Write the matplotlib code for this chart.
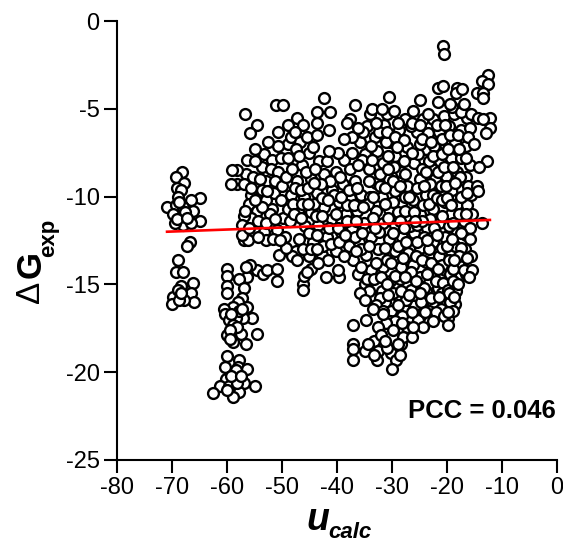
import matplotlib
matplotlib.use("Agg")
import matplotlib.pyplot as plt

plt.rcParams['font.family'] = ['Liberation Sans', 'DejaVu Sans']
plt.rcParams['axes.unicode_minus'] = False

# values, cluster by cluster
far_left = [(-68.2,-8.6),(-69.3,-8.9),(-67.8,-9.2),(-69.1,-9.5),(-68.4,-9.6),(-64.9,-10.1),(-66.5,-10.2),(-68.9,-10.0),
    (-70.9,-10.6),(-69.3,-10.5),(-66.2,-10.8),(-68.0,-10.6),(-68.7,-11.1),(-69.8,-11.0),(-64.9,-11.4),(-68.0,-11.6),
    (-69.5,-11.5),(-66.5,-11.5),(-66.7,-12.6),(-67.2,-12.8),(-68.9,-13.6),(-69.3,-14.3),(-68.0,-14.3),(-66.2,-14.9),
    (-68.4,-15.1),(-66.5,-15.5),(-69.8,-15.7),(-70.0,-16.1),(-66.0,-16.0),(-67.8,-15.9),(-68.7,-15.9),(-68.9,-15.3),
    (-68.7,-10.3),(-67.6,-10.9),(-69.1,-11.3),(-67.2,-11.2),(-68.3,-15.5)]

low_left = [(-60.0,-14.1),(-60.0,-14.5),(-60.0,-15.1),(-60.0,-15.5),(-56.4,-14.6),(-57.8,-14.7),(-56.9,-15.2),(-54.5,-14.2),
    (-53.4,-14.4),(-57.3,-15.8),(-58.0,-16.0),(-56.4,-16.3),(-58.9,-16.3),(-60.5,-16.4),(-60.3,-16.7),(-55.5,-16.9),
    (-57.1,-16.9),(-58.4,-16.9),(-59.6,-17.0),(-58.9,-17.3),(-54.5,-17.8),(-57.5,-17.8),(-60.0,-17.9),(-58.9,-18.3),
    (-56.5,-18.4),(-60.0,-19.1),(-57.8,-19.3),(-60.4,-19.7),(-58.0,-19.7),(-56.4,-19.8),(-58.7,-20.4),(-60.2,-20.4),
    (-56.9,-20.6),(-54.9,-20.8),(-61.3,-20.8),(-62.5,-21.2),(-57.8,-21.1),(-58.9,-21.4),(-59.6,-20.8),(-58.2,-20.6),
    (-57.9,-16.5),(-59.2,-16.7),(-58.1,-17.4),(-59.5,-17.6),(-57.2,-16.4),(-59.4,-18.1),(-58.3,-19.9),(-59.3,-20.2),
    (-57.4,-20.2),(-60.0,-21.0)]

left_mass = [(-56.8,-5.3),(-54.6,-5.9),(-55.8,-6.4),(-53.2,-7.6),(-54.9,-7.3),(-51.9,-7.9),(-56.4,-7.9),(-53.7,-8.3),
    (-52.0,-8.4),(-56.5,-8.7),(-58.1,-8.5),(-59.1,-8.5),(-53.0,-9.1),(-55.2,-8.9),(-50.7,-8.6),(-58.2,-9.3),(-59.3,-9.3),
    (-56.9,-9.3),(-53.7,-9.6),(-55.6,-9.9),(-51.4,-9.8),(-53.0,-10.2),(-56.0,-10.4),(-50.2,-10.2),(-51.8,-10.7),
    (-54.6,-10.8),(-52.2,-11.0),(-55.6,-11.2),(-57.0,-11.1),(-54.3,-11.4),(-49.8,-11.2),(-57.3,-11.6),(-50.9,-11.9),
    (-53.3,-12.0),(-56.9,-12.5),(-56.2,-12.5),(-52.9,-12.5),(-49.4,-12.3),(-57.2,-12.2),(-50.5,-13.3),(-47.5,-13.1),
    (-55.9,-13.9),(-56.6,-14.0),(-52.8,-14.2),(-50.9,-14.1),(-50.9,-14.8),(-48.2,-13.4),(-49.3,-12.9),
    (-55.0,-8.0),(-54.0,-9.0),(-55.7,-9.5),(-52.7,-9.7),(-56.7,-10.8),(-53.7,-10.6),(-51.2,-9.1),(-50.0,-9.4),
    (-54.9,-10.2),(-52.9,-11.5),(-51.3,-11.3),(-56.0,-11.8),(-54.4,-12.3),(-51.7,-12.4),(-50.3,-12.5),(-48.9,-10.7),
    (-50.1,-7.8),(-49.0,-7.0),(-50.7,-7.1),(-52.6,-6.9),(-48.4,-6.6),(-46.7,-6.9)]

top_edge = [(-20.7,-1.4),(-20.5,-1.9),(-12.5,-3.1),(-13.6,-3.4),(-12.5,-3.6),(-14.5,-4.1),(-13.4,-4.1),(-13.4,-4.4),
    (-21.6,-3.8),(-20.7,-3.7),(-18.2,-3.8),(-18.4,-4.1),(-17.3,-3.9),(-30.5,-4.3),(-24.9,-4.5),(-21.6,-4.6),(-19.5,-4.7),
    (-16.9,-4.7),(-42.4,-4.4),(-51.1,-4.8),(-49.8,-4.8),(-43.6,-5.2),(-41.3,-5.2),(-36.7,-4.8),(-33.6,-5.0),(-31.8,-5.0),
    (-29.6,-5.1),(-26.2,-5.1),(-12.2,-5.5),(-14.4,-5.5),(-13.5,-5.6),(-12.2,-6.1),(-12.9,-6.4),(-38.2,-5.8),(-47.3,-5.5),
    (-48.9,-5.9),(-46.2,-5.9),(-50.7,-6.3),(-47.6,-6.3),(-43.7,-5.8),(-41.4,-6.2),(-45.5,-6.6),(-43.7,-6.5),(-44.4,-7.2),
    (-41.4,-7.4),(-12.8,-8.0),(-14.2,-8.3),(-14.6,-9.4),(-14.3,-9.7),(-13.6,-11.5)]

bottom_edge = [(-16.0,-14.6),(-19.8,-17.3),(-19.8,-16.6),(-28.0,-18.0),(-26.4,-18.0),(-26.2,-17.4),(-28.2,-17.2),(-37.1,-17.3),
    (-34.7,-17.0),(-31.6,-16.7),(-37.1,-18.4),(-37.1,-18.7),(-37.1,-19.3),(-34.9,-18.8),(-34.4,-18.4),(-32.0,-17.9),
    (-32.6,-18.8),(-32.7,-19.3),(-29.3,-19.3),(-30.0,-19.8),(-28.5,-19.0),(-30.9,-18.6),(-46.2,-15.0),(-46.2,-15.3),
    (-44.7,-14.1),(-43.5,-13.8),(-42.0,-14.6),(-39.6,-14.6),(-39.8,-14.2),(-35.8,-15.5),(-34.9,-15.9),(-46.0,-14.5),
    (-45.4,-14.3),(-33.5,-16.4),(-29.9,-17.6),(-31.3,-18.2),(-33.3,-19.0),(-28.9,-18.4)]

center_mass = [(-47.4,-7.3),(-45.1,-7.5),(-48.9,-7.8),(-46.3,-8.2),(-43.2,-8.0),(-49.3,-8.9),(-47.2,-9.1),(-44.8,-9.0),(-42.4,-8.7),
    (-48.3,-9.9),(-46.0,-10.0),(-43.6,-9.8),(-41.0,-9.6),(-47.1,-10.8),(-44.7,-10.9),(-42.3,-10.6),(-39.6,-10.3),(-48.6,-11.4),
    (-45.8,-11.7),(-43.4,-11.6),(-40.9,-11.3),(-46.9,-12.4),(-44.3,-12.6),(-41.9,-12.3),(-39.3,-12.0),(-47.3,-13.6),(-45.1,-13.4),
    (-42.7,-13.3),(-40.2,-13.1),(-37.9,-12.8),(-38.8,-7.9),(-40.1,-8.6),(-37.7,-8.4),(-38.9,-9.3),(-36.8,-9.1),(-37.6,-10.1),
    (-35.6,-9.9),(-38.4,-11.0),(-36.3,-10.8),(-37.2,-11.8),(-35.1,-11.5),(-36.0,-12.6),(-33.8,-12.3),(-37.1,-13.6),(-34.7,-13.3),
    (-32.6,-13.0),(-36.2,-14.4),(-33.9,-14.2),(-31.6,-14.0),(-35.0,-15.0),(-32.7,-15.1),(-30.4,-14.8),(-33.6,-15.8),(-31.3,-16.0),
    (-29.1,-15.6),(-30.2,-16.5),(-27.9,-16.4),(-25.8,-16.2),(-28.8,-17.0),(-26.9,-16.9),(-24.9,-16.8),(-35.9,-6.9),(-34.6,-6.0),
    (-37.2,-6.6),(-33.1,-6.6),(-31.4,-5.9),(-35.0,-7.6),(-32.7,-7.4),(-30.3,-6.9),(-28.8,-6.2),(-34.1,-8.4),(-31.6,-8.1),
    (-29.5,-7.7),(-27.2,-7.2),(-25.5,-6.3),(-33.0,-9.2),(-30.6,-9.0),(-28.4,-8.6),(-26.0,-8.1),(-23.9,-7.3),(-34.0,-10.0),
    (-31.9,-10.0),(-29.5,-9.7),(-27.2,-9.4),(-24.9,-9.0),(-22.7,-8.4),(-32.9,-10.8),(-30.5,-10.7),(-28.3,-10.5),(-26.1,-10.2),
    (-23.8,-9.9),(-21.5,-9.4),(-31.6,-11.5),(-29.4,-11.6),(-27.1,-11.2),(-24.9,-11.0),(-22.6,-10.7),(-20.4,-10.3),(-30.5,-12.4),
    (-28.2,-12.3),(-26.0,-12.1),(-23.7,-11.8),(-21.5,-11.5),(-19.2,-11.0),(-29.5,-13.1),(-27.1,-13.2),(-24.9,-12.9),(-22.6,-12.6),
    (-20.4,-12.3),(-18.2,-12.0),(-28.4,-14.0),(-26.1,-13.9),(-23.8,-13.7),(-21.5,-13.4),(-19.3,-13.1),(-27.2,-14.9),(-24.9,-14.6),
    (-22.7,-14.4),(-20.3,-14.2),(-17.9,-13.9),(-26.0,-15.6),(-23.8,-15.4),(-21.6,-15.2),(-19.2,-15.0),(-24.7,-16.0),(-22.6,-16.1),
    (-20.3,-15.9),(-18.5,-16.1),(-27.7,-5.6),(-24.4,-5.6),(-22.6,-5.6),(-20.6,-5.4),(-18.8,-5.3),(-16.4,-5.5),(-23.5,-6.4),
    (-21.5,-6.3),(-19.6,-6.0),(-17.5,-6.2),(-15.8,-6.1),(-22.4,-7.1),(-20.4,-7.0),(-18.6,-6.9),(-16.5,-7.1),(-21.2,-8.0),
    (-19.3,-7.8),(-17.4,-7.8),(-15.8,-8.2),(-20.2,-8.8),(-18.2,-8.6),(-16.5,-8.9),(-19.1,-9.6),(-17.2,-9.6),(-15.6,-9.9),
    (-18.1,-10.4),(-16.3,-10.5),(-17.0,-11.4),(-15.4,-11.0),(-16.6,-12.2),(-18.6,-12.8),(-16.8,-13.0),(-15.7,-13.4),(-17.8,-14.6),
    (-16.5,-14.4),(-19.5,-14.4),(-18.3,-15.4),(-33.4,-11.2),(-35.5,-7.9),(-39.2,-11.5),(-41.2,-9.1),(-44.2,-10.4),(-27.8,-8.0),
    (-31.1,-6.9),(-29.7,-8.3),(-25.2,-7.6),(-22.2,-9.0),(-24.3,-10.5),(-26.7,-11.7),(-28.9,-12.8),(-30.9,-13.6),(-32.3,-12.0),
    (-34.4,-10.4),(-36.8,-12.3),(-38.8,-13.4),(-25.6,-13.4),(-23.2,-13.0),(-21.0,-12.9),(-19.7,-11.7),(-20.9,-11.1),(-23.1,-11.3),
    (-25.5,-11.6),(-27.6,-10.0),(-29.9,-10.3),(-32.1,-9.4),(-33.7,-7.9),(-28.6,-14.7),(-26.6,-15.3),(-24.2,-15.2),(-22.0,-14.8),
    (-20.8,-14.9),(-29.9,-15.5),(-27.5,-15.9),(-23.2,-16.5),(-21.1,-16.4),(-19.5,-16.0),(-31.9,-15.4),(-29.0,-16.2),(-25.3,-17.0)]

# second pass over the dense part of the cloud
dense_a = [(-48.2,-8.4),(-46.9,-7.7),(-45.6,-8.6),(-44.0,-8.4),(-42.9,-9.3),(-41.8,-8.0),(-40.6,-9.9),(-47.7,-9.5),(-46.6,-9.6),
    (-45.3,-9.5),(-44.2,-9.2),(-42.8,-10.1),(-41.6,-10.2),(-40.2,-11.0),(-48.0,-10.4),(-46.4,-10.4),(-45.2,-10.4),(-43.9,-11.1),
    (-42.7,-11.1),(-41.4,-11.8),(-39.9,-11.8),(-47.9,-11.0),(-46.5,-11.2),(-45.1,-12.1),(-43.7,-12.2),(-42.5,-12.8),(-41.1,-12.7),
    (-39.7,-12.6),(-46.2,-13.0),(-44.8,-13.0),(-43.6,-13.0),(-41.6,-13.6),(-38.6,-12.2),(-38.2,-11.4),(-38.1,-10.5),(-39.2,-10.0),
    (-39.4,-8.9),(-37.9,-9.6),(-37.0,-10.5),(-36.4,-9.5),(-36.2,-8.2),(-37.3,-7.5),(-36.6,-11.4),(-35.4,-12.1),(-35.2,-10.6),
    (-34.2,-9.1),(-33.4,-10.0),(-33.1,-11.8),(-35.6,-13.0),(-34.1,-12.8),(-33.0,-13.8),(-36.6,-13.1),(-35.6,-14.0),(-34.5,-14.7),
    (-33.2,-14.7),(-32.0,-14.6),(-31.0,-15.0),(-32.2,-15.8),(-30.7,-15.6),(-34.2,-15.4),(-32.9,-16.2),(-31.7,-16.5),(-30.4,-17.1)]

dense_b = [(-33.9,-7.1),(-32.3,-6.3),(-30.9,-6.3),(-29.4,-6.6),(-27.9,-6.8),(-26.6,-6.0),(-25.0,-7.0),(-23.3,-8.0),(-32.1,-8.7),
    (-30.8,-7.7),(-29.1,-7.2),(-27.6,-8.7),(-26.4,-7.5),(-24.6,-8.4),(-23.1,-9.3),(-31.2,-9.5),(-29.9,-9.1),(-28.5,-9.4),(-27.0,-10.0),
    (-25.5,-9.5),(-24.2,-9.4),(-22.6,-9.9),(-31.2,-10.4),(-29.0,-10.9),(-27.6,-10.8),(-26.0,-10.9),(-24.6,-11.4),(-23.2,-10.4),
    (-21.9,-10.1),(-30.8,-11.2),(-28.6,-11.4),(-27.9,-11.8),(-25.9,-11.4),(-24.1,-12.3),(-22.4,-11.8),(-20.9,-10.2),(-31.2,-12.9),
    (-29.8,-12.1),(-27.4,-12.6),(-25.4,-12.6),(-23.6,-12.5),(-21.9,-12.2),(-20.0,-12.8),(-30.1,-13.8),(-28.0,-13.5),(-26.5,-14.3),
    (-24.6,-13.6),(-22.9,-13.8),(-21.0,-13.9),(-19.7,-13.6),(-29.5,-14.5),(-27.7,-14.6),(-25.7,-14.8),(-23.6,-14.4),(-21.6,-14.1),
    (-18.9,-14.1),(-28.3,-15.4),(-25.0,-15.5),(-23.0,-15.8),(-20.9,-15.5),(-19.8,-15.3),(-28.2,-16.8),(-26.3,-16.6),(-24.0,-16.6),
    (-22.0,-16.6),(-19.9,-16.9),(-27.3,-17.4),(-29.5,-17.1),(-31.1,-17.2),(-28.3,-18.4),(-30.2,-18.9),(-32.5,-17.4),(-33.2,-18.2)]

dense_c = [(-26.3,-5.8),(-24.9,-5.9),(-23.4,-5.3),(-21.9,-5.9),(-20.4,-5.9),(-19.1,-4.9),(-17.5,-5.2),(-15.6,-5.3),(-24.6,-6.7),
    (-23.0,-6.9),(-21.0,-6.7),(-19.4,-6.5),(-18.0,-6.5),(-16.2,-6.6),(-15.1,-7.0),(-23.9,-8.6),(-22.6,-7.7),(-20.9,-7.6),(-19.8,-7.3),
    (-17.9,-7.3),(-16.6,-7.8),(-21.6,-8.6),(-20.6,-8.3),(-18.9,-8.3),(-17.7,-8.9),(-16.1,-9.4),(-21.1,-9.4),(-20.1,-9.4),(-18.5,-9.2),
    (-17.5,-10.0),(-16.3,-9.8),(-20.0,-10.1),(-19.2,-10.5),(-17.9,-11.0),(-16.5,-11.0),(-15.8,-11.8),(-18.9,-11.5),(-17.5,-12.1),
    (-15.9,-12.4),(-19.1,-12.4),(-17.4,-12.9),(-17.9,-13.4),(-16.4,-13.5),(-18.7,-13.6),(-17.0,-14.2),(-15.5,-14.2),(-19.0,-14.8),
    (-18.0,-15.0),(-19.6,-15.5),(-18.7,-15.7),(-19.0,-16.5),(-20.6,-16.8),(-22.5,-17.1),(-24.3,-17.4),(-21.5,-15.7),(-26.9,-15.6),
    (-30.8,-8.4),(-29.0,-5.8),(-31.0,-5.3),(-32.9,-5.8),(-35.2,-6.3),(-34.0,-5.3),(-37.7,-5.6),(-36.2,-6.1),(-38.8,-6.7),(-39.9,-7.5)]

line_x = [-70.9, -12.2]
line_y = [-12.0, -11.33]

xticks = [-80, -70, -60, -50, -40, -30, -20, -10, 0]
yticks = [0, -5, -10, -15, -20, -25]

W, H = 563, 542
fig = plt.figure(figsize=(W / 100, H / 100), dpi=100)
ax = fig.add_axes([117 / W, 1 - 460 / H, 440 / W, 439 / H])

for pts in [far_left, low_left, left_mass, center_mass, dense_a, dense_b, dense_c, top_edge, bottom_edge]:
    xs = [p[0] for p in pts]
    ys = [p[1] for p in pts]
    ax.plot(xs, ys, 'o', ms=7.8, mfc='white', mec='black', mew=1.7, clip_on=False)

ax.plot(line_x, line_y, color='#ff0000', lw=1.9, zorder=5)

ax.set_xlim(-80, 0)
ax.set_ylim(-25, 0)
ax.set_xticks(xticks)
ax.set_yticks(yticks)
ax.spines['top'].set_visible(False)
ax.spines['right'].set_visible(False)
ax.spines['left'].set_linewidth(1.5)
ax.spines['bottom'].set_linewidth(1.5)
ax.tick_params(length=9.5, width=1.5, labelsize=17, pad=3)

ax.text(-0.2, -22.2, 'PCC = 0.046', ha='right', va='center', fontsize=18.5, fontweight='bold')


def label(x, y, s, **kw):
    fig.text(x / W, 1 - y / H, s, **kw)


label(318, 520, 'u', fontsize=27, fontweight='bold', style='italic', ha='center', va='center')
label(350, 533, 'calc', fontsize=16, fontweight='bold', style='italic', ha='center', va='center')
label(31, 292, '\u0394', fontsize=24, rotation=90, ha='center', va='center')
label(31, 264, 'G', fontsize=25, fontweight='bold', rotation=90, ha='center', va='center')
label(49, 238, 'exp', fontsize=16, fontweight='bold', rotation=90, ha='center', va='center')

fig.savefig('out.png', dpi=100)
